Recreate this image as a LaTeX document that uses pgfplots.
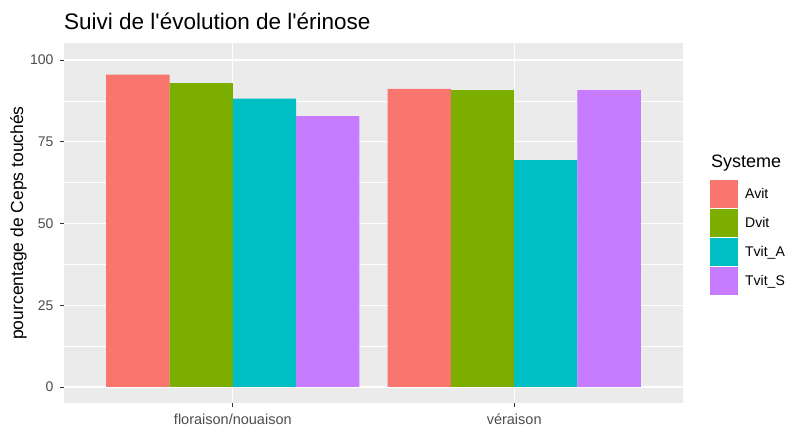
\documentclass[border=0pt]{standalone}
\usepackage{pgfplots}
\pgfplotsset{compat=1.18}
\usepackage{fontspec}
\setmainfont{Liberation Sans}
\definecolor{ggbg}{HTML}{EBEBEB}
\definecolor{gg20}{HTML}{333333}
\definecolor{gg30}{HTML}{4D4D4D}
\definecolor{cAvit}{HTML}{F8766D}
\definecolor{cDvit}{HTML}{7CAE00}
\definecolor{cTvitA}{HTML}{00BFC4}
\definecolor{cTvitS}{HTML}{C77CFF}

\begin{document}
\begin{tikzpicture}
\useasboundingbox (-64pt,-24pt) rectangle (728pt,403pt);
\fill[white] (-64pt,-24pt) rectangle (728pt,403pt);
\begin{axis}[
    at={(0pt,0pt)}, anchor=south west,
    width=619pt, height=360pt, scale only axis,
    xmin=0.4, xmax=2.6, ymin=-4.9, ymax=105.2,
    axis background/.style={fill=ggbg},
    axis line style={draw=none},
    xtick={1,2},
    xticklabels={floraison/nouaison, véraison},
    ytick={0,25,50,75,100},
    minor ytick={12.5,37.5,62.5,87.5},
    xmajorgrids, ymajorgrids, yminorgrids,
    major grid style={white, line width=1.1pt},
    minor grid style={white, line width=0.55pt},
    tick align=outside, xtick pos=bottom, ytick pos=left,
    major tick length=4pt, minor tick length=0pt,
    tick style={gg20, line width=0.8pt},
    /pgf/number format/assume math mode=true,
    yticklabel style={text=gg30, font=\fontsize{14}{14}\selectfont, xshift=-3pt},
    xticklabel style={text=gg30, font=\fontsize{14.5}{14.5}\selectfont, yshift=-3pt},
    ybar, bar width=0.225,
    legend style={at={(1.0436,0.6194)}, anchor=north west, draw=none, fill=none,
        inner sep=0pt, row sep=1pt, font=\fontsize{14}{14}\selectfont,
        /tikz/every odd column/.append style={column sep=5pt}},
    legend cell align=left,
    legend image code/.code={\path[#1, draw=none] (0pt,-14pt) rectangle (28pt,14pt);},
]
\addplot[fill=cAvit, draw=none, bar shift=-0.3375] coordinates {(1,95.5) (2,91.2)};
\addplot[fill=cDvit, draw=none, bar shift=-0.1125] coordinates {(1,92.9) (2,90.8)};
\addplot[fill=cTvitA, draw=none, bar shift=0.1125] coordinates {(1,88.2) (2,69.4)};
\addplot[fill=cTvitS, draw=none, bar shift=0.3375] coordinates {(1,82.8) (2,90.8)};
\legend{Avit, Dvit, Tvit\_A, Tvit\_S}
\end{axis}
\node[anchor=base west, inner sep=0pt, font=\fontsize{22.5}{22.5}\selectfont] at (0pt,373pt) {Suivi de l\textquotesingle évolution de l\textquotesingle érinose};
\node[anchor=center, rotate=90, inner sep=0pt, font=\fontsize{17.5}{17.5}\selectfont] at (-45.5pt,180pt) {pourcentage de Ceps touchés};
\node[anchor=base west, inner sep=0pt, font=\fontsize{18}{18}\selectfont] at (647pt,235pt) {Systeme};
\end{tikzpicture}
\end{document}
